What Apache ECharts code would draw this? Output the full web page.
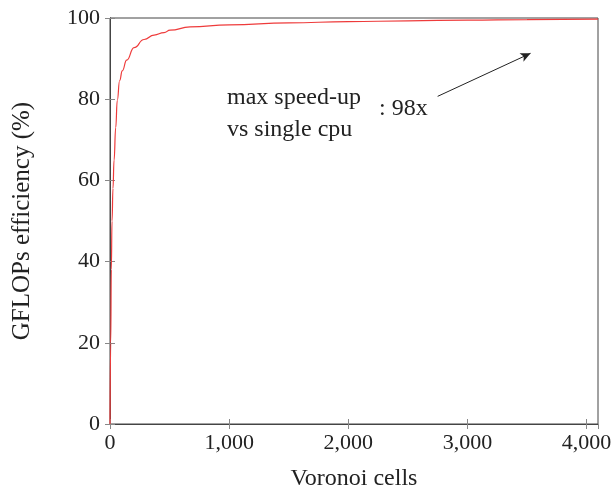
<!DOCTYPE html>
<html>
<head>
<meta charset="utf-8">
<script src="https://cdn.jsdelivr.net/npm/echarts@6/dist/echarts.min.js"></script>
<style>
  html, body { margin: 0; padding: 0; background: #fff; }
  #chart { width: 613px; height: 488px; }
</style>
</head>
<body>
<div id="chart"></div>
<script>
// values
var cells = [0, 6, 11, 17, 25, 34, 48, 61, 81, 103, 140, 202, 286, 370, 454, 504, 672, 1000, 1500, 2000, 2500, 3000, 3500, 4096];
var efficiency = [0, 20, 38, 50, 58, 65, 73, 79.7, 84.6, 87, 89.6, 92.7, 94.7, 95.8, 96.4, 97.0, 97.8, 98.3, 98.8, 99.1, 99.3, 99.5, 99.6, 99.7];
var arrowFrom = [2750, 80.7];
var arrowTo = [3530, 91.3];

var font = "'Liberation Serif', 'DejaVu Serif', serif";
var chart = echarts.init(document.getElementById("chart"));

function commas(v) {
  return String(v).replace(/\B(?=(\d{3})+(?!\d))/g, ",");
}

var tickStyle = { show: true, inside: true, length: 5, lineStyle: { color: '#888', width: 1 } };
var lineStyle = { color: '#444', width: 1 };

var option = {
  animation: false,
  grid: { left: 110, right: 15, top: 18, bottom: 64, outerBoundsMode: 'none', show: true, borderColor: '#444', borderWidth: 1 },
  xAxis: [
    {
      type: 'value', min: 0, max: 4096, interval: 1000,
      name: 'Voronoi cells', nameLocation: 'middle', nameGap: 43,
      nameTextStyle: { fontFamily: font, fontSize: 24, color: '#222' },
      axisLine: { show: true, onZero: false, lineStyle: lineStyle },
      axisTick: tickStyle,
      splitLine: { show: false },
      axisLabel: { fontFamily: font, fontSize: 22, color: '#222', margin: 8, showMaxLabel: false,
        formatter: function (v) { return commas(v); } }
    },
    {
      type: 'value', min: 0, max: 4096, interval: 1000, position: 'top',
      axisLine: { show: true, lineStyle: lineStyle },
      axisTick: tickStyle,
      splitLine: { show: false },
      axisLabel: { show: false }
    }
  ],
  yAxis: [
    {
      type: 'value', min: 0, max: 100, interval: 20,
      name: 'GFLOPs efficiency (%)', nameLocation: 'middle', nameGap: 75,
      nameTextStyle: { fontFamily: font, fontSize: 25, color: '#222' },
      axisLine: { show: true, lineStyle: lineStyle },
      axisTick: tickStyle,
      splitLine: { show: false },
      axisLabel: { fontFamily: font, fontSize: 22, color: '#222', margin: 10 }
    },
    {
      type: 'value', min: 0, max: 100, interval: 20, position: 'right',
      axisLine: { show: true, lineStyle: lineStyle },
      axisTick: tickStyle,
      splitLine: { show: false },
      axisLabel: { show: false }
    }
  ],
  series: [
    {
      type: 'line',
      data: cells.map(function (x, i) { return [x, efficiency[i]]; }),
      symbol: 'none',
      smooth: 0.5,
      smoothMonotone: 'x',
      lineStyle: { color: '#ee3b3b', width: 1.2 },
      markLine: {
        silent: true,
        symbol: ['none', 'arrow'],
        symbolSize: [7, 10],
        label: { show: false },
        lineStyle: { color: '#222', width: 1, type: 'solid' },
        data: [[{ coord: arrowFrom }, { coord: arrowTo }]]
      }
    },
    {
      type: 'line', xAxisIndex: 1, yAxisIndex: 1, data: [], symbol: 'none'
    }
  ],
  graphic: [
    {
      type: 'text', left: 227, top: 82,
      style: { text: 'max speed-up\nvs single cpu', font: '24px ' + font, fill: '#222', align: 'center', lineHeight: 32 }
    },
    {
      type: 'text', left: 379, top: 97,
      style: { text: ': 98x', font: '24px ' + font, fill: '#222' }
    }
  ]
};
chart.setOption(option);
</script>
</body>
</html>
